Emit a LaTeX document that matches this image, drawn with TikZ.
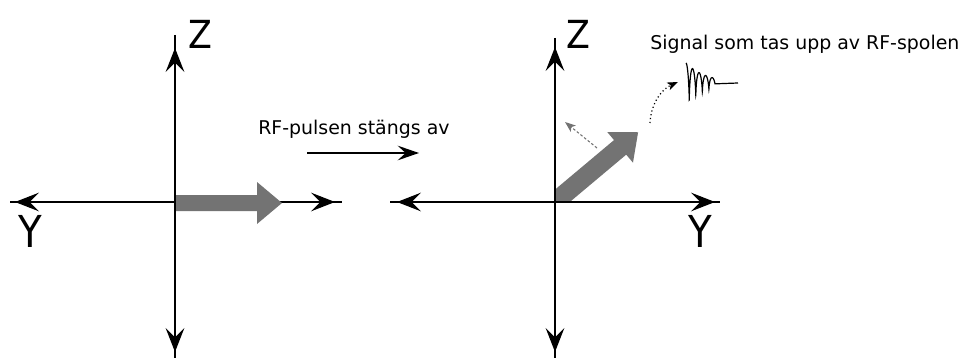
\documentclass[tikz,border=0pt]{standalone}
\usepackage{fontspec}
\setmainfont{DejaVu Sans}
\usetikzlibrary{arrows.meta,decorations.markings}
\definecolor{vecgray}{HTML}{737373}
\tikzset{
  axtip/.tip={Stealth[length=18pt,width=14pt,inset=7pt]},
  axisline/.style n args={3}{line width=#1, postaction={decorate},
    decoration={markings,
      mark=at position #2 with {\arrowreversed{axtip}},
      mark=at position -#3 with {\arrow{axtip}}}},
  bigvec/.style={fill=vecgray},
  axlabel/.style={inner sep=0pt, font=\fontsize{29}{32}\selectfont},
  ylabel/.style={inner sep=0pt, font=\fontsize{33}{36}\selectfont},
  caption/.style={inner sep=0pt, anchor=base west, font=\fontsize{14.2}{17}\selectfont},
  pulsearrow/.style={line width=1.3pt, -{Stealth[length=16pt,width=11pt,inset=6pt]}},
  precess/.style={vecgray, line width=0.8pt, dash pattern=on 2pt off 1.5pt, -{Stealth[length=8pt,width=6pt,inset=2pt]}},
  pickup/.style={line width=0.9pt, dotted, -{Stealth[length=8pt,width=6pt,inset=2pt]}},
  signal/.style={line width=0.9pt},
}
\begin{document}
\begin{tikzpicture}[x=0.75pt,y=-0.75pt]
\useasboundingbox (0,0) rectangle (965,360);
% ---------- left frame ----------
\coordinate (LO) at (175,202);
\coordinate (Ltop) at (175,35);
\coordinate (Lbot) at (175,358);
\coordinate (Lleft) at (10,202);
\coordinate (Lright) at (342,202);
\draw[axisline={1.5pt}{3.75pt}{5.25pt}] (Lleft) -- (Lright);
\fill[bigvec] (175,195) -- (257,195) -- (257,182) -- (282,203) -- (257,224) -- (257,211) -- (175,211) -- cycle;
\draw[axisline={2.2pt}{9.75pt}{4.5pt}] (Ltop) -- (Lbot);
\node[axlabel] (LZ) at (200,34) {\scalebox{0.9}[1]{Z}};
\node[ylabel] (LY) at (30,231) {\scalebox{0.88}[1]{Y}};
% ---------- middle ----------
\node[caption] (pulsetext) at (258,135) {RF-pulsen stängs av};
\coordinate (Pstart) at (307,153);
\coordinate (Pend) at (419,153);
\draw[pulsearrow] (Pstart) -- (Pend);
% ---------- right frame ----------
\coordinate (RO) at (555,202);
\coordinate (Rtop) at (555,38);
\coordinate (Rbot) at (555,358);
\coordinate (Rleft) at (390,202);
\coordinate (Rright) at (720,202);
\begin{scope}
  \clip (555,202) rectangle (700,100);
  \begin{scope}[shift={(555,202)}, rotate=40]
    \fill[bigvec] (-20,-9.5) -- (85,-9.5) -- (85,-20) -- (108.5,0) -- (85,20) -- (85,9.5) -- (-20,9.5) -- cycle;
  \end{scope}
\end{scope}
\draw[axisline={1.5pt}{5.25pt}{3.75pt}] (Rleft) -- (Rright);
\draw[axisline={1.7pt}{6.75pt}{4.5pt}] (Rtop) -- (Rbot);
\node[axlabel] (RZ) at (578,34) {\scalebox{0.9}[1]{Z}};
\node[ylabel] (RY) at (700,231) {\scalebox{0.88}[1]{Y}};
\coordinate (Dstart) at (597,148);
\coordinate (Dend) at (565,122);
\draw[precess] (Dstart) -- (Dend);
\coordinate (Cstart) at (650,123);
\coordinate (Cend) at (678,82);
\draw[pickup] (Cstart) .. controls (651,103) and (662,89) .. (Cend);
\node[caption] (sigtext) at (650,50) {Signal som tas upp av RF-spolen};
\coordinate (Send) at (738,83);
\draw[signal] plot[domain=0:28, samples=240, variable=\t] ({686+\t+1.0*sin(\t*55)}, {83-20*exp(-\t/20)*cos(\t*55)}) -- (Send);
\end{tikzpicture}
\end{document}
